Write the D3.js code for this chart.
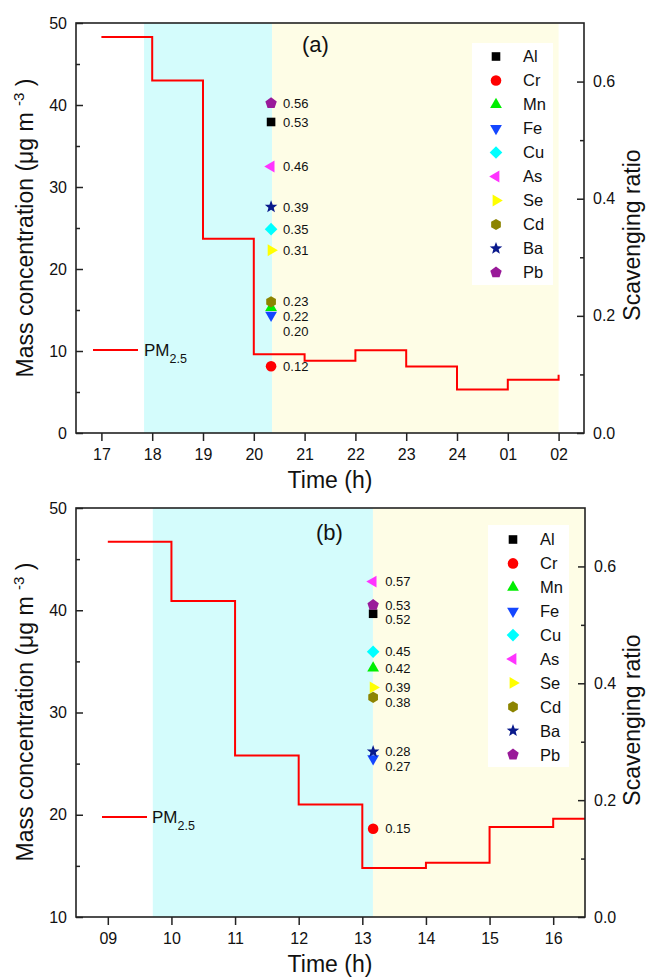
<!DOCTYPE html>
<html><head><meta charset="utf-8">
<script src="https://cdn.jsdelivr.net/npm/d3@7"></script>
<style>body{margin:0;background:#fff}</style>
</head><body>
<script>
// ---------------- DATA ----------------
const elements = ["Al","Cr","Mn","Fe","Cu","As","Se","Cd","Ba","Pb"];

// Panel (a)
const hoursA = ["17","18","19","20","21","22","23","24","01","02"];
const pmA    = [48.3, 43.0, 23.7, 9.6, 8.8, 10.1, 8.1, 5.3, 6.5, 7.1];
const ratioA = [0.531, 0.114, 0.214, 0.201, 0.348, 0.455, 0.312, 0.224, 0.386, 0.563];
const labelA = ["0.53","0.12","0.22","0.20","0.35","0.46","0.31","0.23","0.39","0.56"];
const rainA  = [0.84, 3.36];   // cyan period (hour index)
const afterA = [3.36, 9.0];    // yellow period (hour index)
const sampleA = 3.34;          // time of scavenging-ratio markers (hour index)
const lineEndA = 9;            // step line end (hour index)

// Panel (b)
const hoursB = ["09","10","11","12","13","14","15","16"];
const pmB    = [46.7, 40.9, 25.8, 21.0, 14.8, 15.3, 18.8, 19.6];
const ratioB = [0.519, 0.151, 0.426, 0.271, 0.454, 0.574, 0.393, 0.376, 0.283, 0.534];
const labelB = ["0.52","0.15","0.42","0.27","0.45","0.57","0.39","0.38","0.28","0.53"];
const rainB  = [0.707, 4.167];
const afterB = [4.167, 7.5];
const sampleB = 4.17;
const lineEndB = 7.5;

const leftDomainA = [0, 50], leftDomainB = [10, 50];
const rightDomain = [0, 0.7];
const rightTicks = [0, 0.2, 0.4, 0.6], rightMinor = [0.1, 0.3, 0.5];

// ---------------- STYLE ----------------
const FONT = "'Liberation Sans', Arial, Helvetica, sans-serif";
const colors = {Al:"#000000", Cr:"#FF0000", Mn:"#00EE00", Fe:"#1446FF", Cu:"#00FFFF",
  As:"#FF33FF", Se:"#FFFF00", Cd:"#8C8400", Ba:"#0A1A8C", Pb:"#991A99"};

function poly(n, rot) {
  return { draw(ctx, r) {
    for (let i = 0; i < n; i++) {
      const a = rot + i * 2 * Math.PI / n;
      const x = r * Math.sin(a), y = -r * Math.cos(a);
      i ? ctx.lineTo(x, y) : ctx.moveTo(x, y);
    }
    ctx.closePath();
  }};
}
const circleT = { draw(ctx, r) { ctx.moveTo(r, 0); ctx.arc(0, 0, r, 0, 2 * Math.PI); } };
const squareT = { draw(ctx, r) { ctx.rect(-r, -r, 2 * r, 2 * r); } };
const starT = { draw(ctx, r) {
  for (let i = 0; i < 10; i++) {
    const rr = i % 2 ? r * 0.42 : r, a = i * Math.PI / 5;
    const x = rr * Math.sin(a), y = -rr * Math.cos(a);
    i ? ctx.lineTo(x, y) : ctx.moveTo(x, y);
  }
  ctx.closePath();
}};
const shapes = {
  Al: [squareT, 4.3], Cr: [circleT, 5.3], Mn: [poly(3, 0), 6.8], Fe: [poly(3, Math.PI), 6.8],
  Cu: [poly(4, 0), 6.3], As: [poly(3, -Math.PI / 2), 6.8], Se: [poly(3, Math.PI / 2), 6.8],
  Cd: [poly(6, 0), 5.6], Ba: [starT, 6.6], Pb: [poly(5, 0), 6.0]
};
const sym = el => d3.symbol().type(shapes[el][0]).size(shapes[el][1])();

const svg = d3.select("body").append("svg")
  .attr("width", 648).attr("height", 979)
  .style("font-family", FONT);

const panels = [
  { tag: "(a)", hours: hoursA, pm: pmA, ratio: ratioA, labels: labelA, rain: rainA, after: afterA,
    sample: sampleA, lineEnd: lineEndA, leftDomain: leftDomainA,
    box: {l: 76, r: 584, t: 23, b: 433},
    leg: {rx: 472, ry: 43, rw: 81, rh: 242, mx: 496, tx: 523, y0: 56.5, dy: 24},
    pmLeg: {x1: 93, x2: 138, y: 350, tx: 144},
    tagPos: [302, 52], xTitleY: 488, xTitleX: 330, yTitleC: 228, rTitleC: 235 },
  { tag: "(b)", hours: hoursB, pm: pmB, ratio: ratioB, labels: labelB, rain: rainB, after: afterB,
    sample: sampleB, lineEnd: lineEndB, leftDomain: leftDomainB,
    box: {l: 76, r: 585, t: 508, b: 917},
    leg: {rx: 488, ry: 525, rw: 81, rh: 242, mx: 513, tx: 540, y0: 539.5, dy: 23.9},
    pmLeg: {x1: 102, x2: 147, y: 817, tx: 152},
    tagPos: [316, 540], xTitleY: 972, xTitleX: 330, yTitleC: 712, rTitleC: 720 }
];

panels.forEach(P => {
  const B = P.box;
  const n = P.hours.length;
  const x = d3.scaleLinear().domain([-0.5, n - 0.5]).range([B.l, B.r]);
  const yL = d3.scaleLinear().domain(P.leftDomain).range([B.b, B.t]);
  const yR = d3.scaleLinear().domain(rightDomain).range([B.b, B.t]);
  const g = svg.append("g");

  // shaded periods
  g.append("rect").attr("x", x(P.rain[0])).attr("y", B.t)
    .attr("width", x(P.rain[1]) - x(P.rain[0])).attr("height", B.b - B.t).attr("fill", "#D4FCFC");
  g.append("rect").attr("x", x(P.after[0])).attr("y", B.t)
    .attr("width", x(P.after[1]) - x(P.after[0])).attr("height", B.b - B.t).attr("fill", "#FEFDE6");

  // PM2.5 step line
  const pts = P.pm.map((v, i) => [i, v]);
  if (P.lineEnd > n - 1) pts.push([P.lineEnd, P.pm[n - 1]]);
  g.append("path").datum(pts)
    .attr("d", d3.line().x(d => x(d[0])).y(d => yL(d[1])).curve(d3.curveStepAfter))
    .attr("fill", "none").attr("stroke", "#FF0000").attr("stroke-width", 2);

  // scavenging ratio markers
  elements.forEach((el, i) => {
    g.append("path").attr("d", sym(el))
      .attr("transform", `translate(${x(P.sample)},${yR(P.ratio[i])})`)
      .attr("fill", colors[el]);
  });
  // labels, de-overlapped top-down
  const order = d3.range(elements.length).sort((a, b) => P.ratio[b] - P.ratio[a]);
  let prev = -1e9;
  order.forEach(i => {
    let ly = Math.max(yR(P.ratio[i]), prev + 14.6);
    prev = ly;
    g.append("text").attr("x", x(P.sample) + 12).attr("y", ly).attr("dy", "0.36em")
      .attr("font-size", 13).attr("fill", "#111").text(P.labels[i]);
  });

  // element legend
  const L = P.leg;
  g.append("rect").attr("x", L.rx).attr("y", L.ry).attr("width", L.rw).attr("height", L.rh).attr("fill", "#fff");
  elements.forEach((el, i) => {
    const yy = L.y0 + i * L.dy;
    g.append("path").attr("d", sym(el)).attr("transform", `translate(${L.mx},${yy})`).attr("fill", colors[el]);
    g.append("text").attr("x", L.tx).attr("y", yy).attr("dy", "0.36em")
      .attr("font-size", 16.5).attr("fill", "#111").text(el);
  });

  // PM2.5 legend
  const M = P.pmLeg;
  g.append("line").attr("x1", M.x1).attr("x2", M.x2).attr("y1", M.y).attr("y2", M.y)
    .attr("stroke", "#FF0000").attr("stroke-width", 2);
  const pt = g.append("text").attr("x", M.tx).attr("y", M.y + 6).attr("font-size", 17).attr("fill", "#111");
  pt.append("tspan").text("PM");
  pt.append("tspan").attr("font-size", 12.5).attr("dy", 6.5).text("2.5");

  // panel tag
  g.append("text").attr("x", P.tagPos[0]).attr("y", P.tagPos[1]).attr("font-size", 22)
    .attr("fill", "#111").text(P.tag);

  // axes
  const styleAxis = sel => {
    sel.select(".domain").remove();
    sel.selectAll("line").attr("stroke", "#222").attr("stroke-width", 1.5);
    sel.selectAll("text").attr("font-size", 16).attr("fill", "#111").style("font-family", FONT);
  };
  const majL = d3.range(P.leftDomain[0], P.leftDomain[1] + 1, 10);
  const minL = d3.range(P.leftDomain[0] + 5, P.leftDomain[1], 10);
  svg.append("g").attr("transform", `translate(${B.l},0)`)
    .call(d3.axisLeft(yL).tickValues(majL).tickSize(-7).tickPadding(9).tickFormat(d3.format("d"))).call(styleAxis);
  svg.append("g").attr("transform", `translate(${B.l},0)`)
    .call(d3.axisLeft(yL).tickValues(minL).tickSize(-4).tickFormat("")).call(styleAxis);
  svg.append("g").attr("transform", `translate(${B.r},0)`)
    .call(d3.axisRight(yR).tickValues(rightTicks).tickSize(-7).tickPadding(9).tickFormat(d3.format(".1f"))).call(styleAxis);
  svg.append("g").attr("transform", `translate(${B.r},0)`)
    .call(d3.axisRight(yR).tickValues(rightMinor).tickSize(-4).tickFormat("")).call(styleAxis);
  svg.append("g").attr("transform", `translate(0,${B.b})`)
    .call(d3.axisBottom(x).tickValues(d3.range(n)).tickSize(8).tickPadding(8).tickFormat(i => P.hours[i])).call(styleAxis);

  // frame
  svg.append("rect").attr("x", B.l).attr("y", B.t).attr("width", B.r - B.l).attr("height", B.b - B.t)
    .attr("fill", "none").attr("stroke", "#222").attr("stroke-width", 1.6);

  // titles
  svg.append("text").attr("x", P.xTitleX).attr("y", P.xTitleY).attr("text-anchor", "middle")
    .attr("font-size", 23).attr("fill", "#111").text("Time (h)");
  const lt = svg.append("text").attr("transform", `translate(33,${P.yTitleC}) rotate(-90)`)
    .attr("text-anchor", "middle").attr("font-size", 23).attr("fill", "#111");
  lt.append("tspan").text("Mass concentration (μg m ");
  lt.append("tspan").attr("font-size", 15).attr("dy", -9).text("-3");
  lt.append("tspan").attr("dy", 9).text(" )");
  svg.append("text").attr("transform", `translate(640,${P.rTitleC}) rotate(-90)`)
    .attr("text-anchor", "middle").attr("font-size", 23).attr("fill", "#111").text("Scavenging ratio");
});
</script>
</body></html>
